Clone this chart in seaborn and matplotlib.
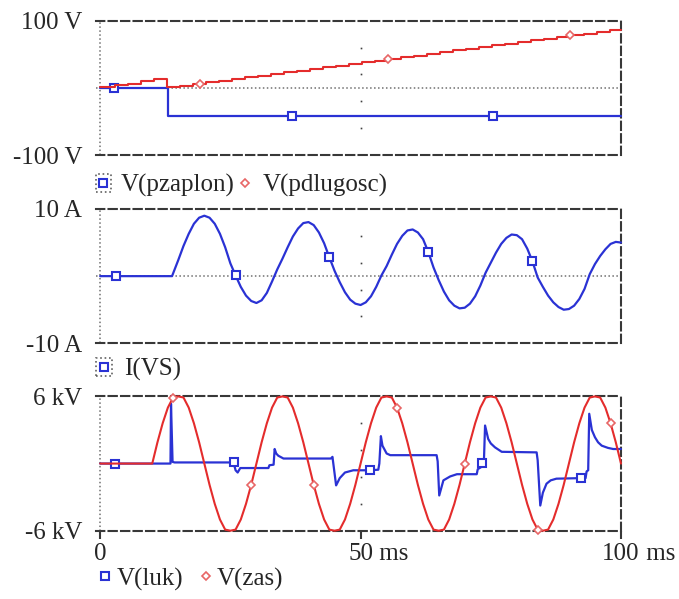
import matplotlib
matplotlib.use("Agg")
import matplotlib.pyplot as plt
import matplotlib.transforms as mtransforms
from matplotlib.lines import Line2D
from matplotlib.patches import Rectangle
import seaborn as sns

# ---------------- data ----------------
# panel 1 : V(pzaplon), V(pdlugosc)  [V]
pzaplon_t = [0, 2.7, 13.1, 13.1, 36.9, 75.4, 100]
pzaplon_v = [0, 0, 0, -42, -42, -42, -42]
pzaplon_mk = [2.7, 36.9, 75.4]

pdlugosc_t = [0, 2.8, 5.3, 7.8, 10.3, 12.8, 15.3, 17.8, 19.1, 20.3, 22.8, 25.3,
              27.8, 30.3, 32.8, 35.3, 37.8, 40.3, 42.8, 45.3, 47.8, 50.3, 52.8,
              55.3, 57.8, 60.3, 62.8, 65.3, 67.8, 70.3, 72.8, 75.3, 77.8, 80.3,
              82.8, 85.3, 87.8, 90.3, 92.8, 95.3, 97.8, 100]
pdlugosc_v = [1.5, 4.0, 6.5, 9.5, 13.0, 0.7, 3.2, 5.7, 5.7, 8.2, 10.7, 13.2,
              15.7, 18.2, 20.7, 23.2, 25.7, 28.2, 30.7, 33.2, 35.7, 38.2, 40.7,
              43.2, 45.7, 48.2, 50.7, 53.2, 55.7, 58.2, 60.7, 63.2, 65.7, 68.2,
              70.7, 73.2, 75.7, 78.2, 80.7, 83.2, 85.7, 85.7]
pdlugosc_mk = [19.1, 55.3, 90.3]

# panel 2 : I(VS)  [A]
ivs_t = list(range(0, 14)) + [13.8] + list(range(14, 101))
ivs_v = [0] * 14 + [0] + [
    0.4, 2.4, 4.5, 6.3, 7.8, 8.7, 9.0, 8.7, 7.8, 6.3,          # 14-23
    4.3, 1.9, 0.1, -1.6, -2.9, -3.7, -4.0, -3.6, -2.5, -0.8,   # 24-33
    1.0, 2.6, 4.3, 5.9, 7.1, 7.9, 8.05, 7.6, 6.5, 4.9,         # 34-43
    2.8, 0.8, -0.9, -2.4, -3.5, -4.1, -4.3, -3.9, -3.0, -1.6,  # 44-53
    0.1, 1.5, 3.2, 4.8, 6.0, 6.8, 6.95, 6.5, 5.5, 3.6,         # 54-63
    1.3, -0.6, -2.3, -3.6, -4.4, -4.8, -4.7, -4.1, -3.0, -1.4, # 64-73
    0.5, 2.0, 3.5, 4.8, 5.7, 6.2, 6.1, 5.5, 4.1, 2.2,          # 74-83
    -0.2, -1.6, -2.9, -3.9, -4.6, -5.0, -4.9, -4.4, -3.4, -1.9,# 84-93
    0.3, 1.8, 3.0, 4.0, 4.8, 5.1, 5.0]                          # 94-100
ivs_mk = [3, 26, 44, 63, 83]

# panel 3 : V(luk), V(zas)  [kV]
zas_t = list(range(0, 101))
zas_v = [0] * 11 + [
    1.9, 3.6, 5.0, 5.9, 6.0, 5.9, 5.0, 3.6, 1.9, 0,
    -1.9, -3.6, -5.0, -5.9, -6.0, -5.9, -5.0, -3.6, -1.9, 0,
    1.9, 3.6, 5.0, 5.9, 6.0, 5.9, 5.0, 3.6, 1.9, 0,
    -1.9, -3.6, -5.0, -5.9, -6.0, -5.9, -5.0, -3.6, -1.9, 0,
    1.9, 3.6, 5.0, 5.9, 6.0, 5.9, 5.0, 3.6, 1.9, 0,
    -1.9, -3.6, -5.0, -5.9, -6.0, -5.9, -5.0, -3.6, -1.9, 0,
    1.9, 3.6, 5.0, 5.9, 6.0, 5.9, 5.0, 3.6, 1.9, 0,
    -1.9, -3.6, -5.0, -5.9, -6.0, -5.9, -5.0, -3.6, -1.9, 0,
    1.9, 3.6, 5.0, 5.9, 6.0, 5.9, 5.0, 3.6, 1.9, 0]
zas_mk = [14, 29, 41, 57, 70, 84, 98]

luk_t = [0, 2.9, 13.5, 13.6, 13.9, 14.3, 25.6, 26.0, 26.4, 26.9, 32.3, 32.5,
         33.3, 33.5, 33.8, 34.2, 35.2, 44.3, 44.6, 45.3, 46.0, 47.0, 48.6, 51.8,
         53.4, 53.6, 53.9, 54.2, 55.0, 55.7, 64.6, 64.8, 65.1, 65.9, 67.2, 68.5,
         72.3, 72.5, 73.2, 73.4, 73.7, 73.9, 74.5, 75.0, 75.8, 77.1, 83.8, 84.0,
         84.5, 85.0, 85.7, 86.5, 87.6, 92.3, 93.2, 93.4, 93.7, 93.9, 94.4, 95.0,
         95.6, 96.3, 97.5, 98.5, 100]
luk_v = [0, 0, 0, 5.35, 0.15, 0.1, 0.1, -0.6, -0.8, -0.4, -0.4, -0.15,
         -0.1, 1.3, 0.9, 0.7, 0.45, 0.45, 0.6, -1.95, -1.3, -0.8, -0.6, -0.6,
         -0.55, 0.0, 2.45, 1.6, 0.9, 0.75, 0.75, 0.2, -2.85, -1.5, -1.15, -0.95,
         -0.95, -0.5, -0.3, 0.05, 0.5, 3.4, 2.2, 1.8, 1.45, 1.05, 1.0, 0.3,
         -3.75, -2.6, -1.8, -1.5, -1.35, -1.3, -1.3, -0.7, -0.6, 4.45, 3.0, 2.35,
         1.9, 1.6, 1.4, 1.3, 1.3]
luk_mk = [2.9, 25.6, 51.8, 73.4, 92.3]

ylims = [(-100, 100), (-10, 10), (-6, 6)]
ylabels = [["-100 V", "100 V"], ["-10 A", "10 A"], ["-6 kV", "6 kV"]]
xtick_vals = [0, 50, 100]
xtick_units = ["", " ms", " ms"]

# ---------------- style ----------------
sns.set_style("white")
plt.rcParams["font.family"] = ["Liberation Serif", "DejaVu Serif"]
FS = 18
BLUE = "#2a32d4"
RED = "#e42c2c"
RED_MK = "#e86666"
FRAME = "#383838"
DOT = "#707070"

fig = plt.figure(figsize=(6.79, 5.99), dpi=100)
L, W, H = 96 / 679, 525 / 679, 134.3 / 599
ax1 = fig.add_axes([L, 0.7412, W, H])
ax2 = fig.add_axes([L, 0.4269, W, H])
ax3 = fig.add_axes([L, 0.1140, W, H])


def frame(ax, lims, labels, zero=True, bottom=False):
    ax.set_xlim(-0.8, 100)
    ax.set_ylim(*lims)
    for s in ("top", "bottom", "right"):
        ax.spines[s].set_visible(True)
        ax.spines[s].set_color(FRAME)
        ax.spines[s].set_linewidth(1.5)
        ax.spines[s].set_linestyle((0, (4, 2)))
    ax.spines["left"].set_visible(False)
    ax.axvline(0, color=DOT, lw=1.1, ls=(0, (1, 1.6)), zorder=1)
    if zero:
        ax.axhline(0, color=DOT, lw=1.1, ls=(0, (1, 1.6)), zorder=1)
    ax.set_yticks(list(lims), labels)
    ax.tick_params(axis="y", left=False, length=0, pad=10, labelsize=FS)
    ax.plot([50] * 4, [0.2, 0.4, 0.6, 0.8], transform=ax.get_xaxis_transform(),
            ls="none", marker="s", ms=1.2, mew=0, color="#404040")
    if bottom:
        ax.set_xticks(xtick_vals)
        ax.tick_params(axis="x", bottom=True, length=6, width=1.5, color=FRAME,
                       labelbottom=False, direction="out")
    else:
        ax.set_xticks([])
    ax.set_xlabel("")
    ax.set_ylabel("")


def idx(ts, marks):
    return [ts.index(m) for m in marks]


# panel 1
frame(ax1, ylims[0], ylabels[0])
sns.lineplot(x=pzaplon_t, y=pzaplon_v, ax=ax1, estimator=None, sort=False,
             color=BLUE, lw=1.6, marker="s", markevery=idx(pzaplon_t, pzaplon_mk),
             ms=5.5, mfc="white", mec=BLUE, mew=1.5, clip_on=False, zorder=3)
sns.lineplot(x=pdlugosc_t, y=pdlugosc_v, ax=ax1, estimator=None, sort=False,
             color=RED, lw=1.5, drawstyle="steps-post", marker="D",
             markevery=idx(pdlugosc_t, pdlugosc_mk), ms=4.5, mfc="white",
             mec=RED_MK, mew=1.2, clip_on=False, zorder=4)

# panel 2
frame(ax2, ylims[1], ylabels[1])
sns.lineplot(x=ivs_t, y=ivs_v, ax=ax2, estimator=None, sort=False,
             color=BLUE, lw=1.6, marker="s", markevery=idx(ivs_t, ivs_mk),
             ms=5.5, mfc="white", mec=BLUE, mew=1.5, clip_on=False, zorder=3)

# panel 3
frame(ax3, ylims[2], ylabels[2], zero=False, bottom=True)
sns.lineplot(x=luk_t, y=luk_v, ax=ax3, estimator=None, sort=False,
             color=BLUE, lw=1.6, marker="s", markevery=idx(luk_t, luk_mk),
             ms=5.5, mfc="white", mec=BLUE, mew=1.5, clip_on=False, zorder=3)
sns.lineplot(x=zas_t, y=zas_v, ax=ax3, estimator=None, sort=False,
             color=RED, lw=1.5, marker="D", markevery=idx(zas_t, zas_mk),
             ms=4.5, mfc="white", mec=RED_MK, mew=1.2, clip_on=False, zorder=4)

# x tick labels (number centred on tick, unit trailing)
trans = mtransforms.blended_transform_factory(ax3.transData, ax3.transAxes)
for val, unit in zip(xtick_vals, xtick_units):
    t = ax3.text(val, -0.17, f"{val}", transform=trans, ha="center",
                 va="center", fontsize=FS)
    if unit:
        ax3.annotate(unit, xy=(1, 0), xycoords=t, ha="left", va="bottom",
                     fontsize=FS)

# legends
def sq():
    return Line2D([], [], ls="none", marker="s", ms=5.5, mfc="white", mec=BLUE, mew=1.5)


def dm():
    return Line2D([], [], ls="none", marker="D", ms=4.5, mfc="white", mec=RED_MK, mew=1.2)


def box():
    return Rectangle((0, 0), 1, 1, fill=False, ls=":", ec="#606060", lw=1.2)


common = dict(frameon=False, fontsize=FS, borderpad=0, borderaxespad=0,
              loc="center left")
ax1.legend([(box(), sq()), dm()], ["V(pzaplon)", "V(pdlugosc)"], ncol=2,
           bbox_to_anchor=(0.0, -0.228), handlelength=0.58, handleheight=0.74,
           handletextpad=0.4, columnspacing=0.15, **common)
ax2.legend([(box(), sq())], ["I(VS)"], bbox_to_anchor=(0.0, -0.195),
           handlelength=0.62, handleheight=0.76, handletextpad=0.5, **common)
ax3.legend([sq(), dm()], ["V(luk)", "V(zas)"], ncol=2,
           bbox_to_anchor=(0.006, -0.36), handlelength=0.5, handleheight=0.7,
           handletextpad=0.2, columnspacing=0.65, **common)

fig.savefig("out.png", dpi=100)
